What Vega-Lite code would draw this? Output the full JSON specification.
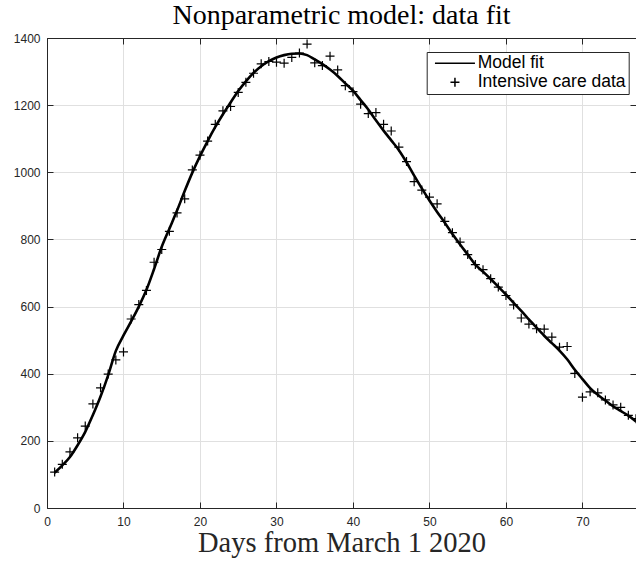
{
  "$schema": "https://vega.github.io/schema/vega-lite/v6.json",
  "width": 589,
  "height": 470,
  "autosize": {"type": "none"},
  "padding": {"left": 47, "top": 38, "right": 0, "bottom": 54},
  "background": "white",
  "title": {
    "text": "Nonparametric model: data fit",
    "font": "Liberation Serif",
    "fontSize": 28,
    "fontWeight": "normal",
    "color": "#000000",
    "anchor": "middle",
    "offset": 2
  },
  "config": {"view": {"stroke": null}},
  "datasets": {
    "fit": [
      {"day": 1, "value": 105}, {"day": 2, "value": 127}, {"day": 3, "value": 152}, {"day": 4, "value": 187},
      {"day": 5, "value": 227}, {"day": 6, "value": 277}, {"day": 7, "value": 332}, {"day": 8, "value": 396},
      {"day": 9, "value": 468}, {"day": 10, "value": 514}, {"day": 11, "value": 556}, {"day": 12, "value": 600},
      {"day": 13, "value": 650}, {"day": 14, "value": 712}, {"day": 15, "value": 778}, {"day": 16, "value": 832},
      {"day": 17, "value": 886}, {"day": 18, "value": 944}, {"day": 19, "value": 999}, {"day": 20, "value": 1048},
      {"day": 21, "value": 1093}, {"day": 22, "value": 1135}, {"day": 23, "value": 1173}, {"day": 24, "value": 1208},
      {"day": 25, "value": 1242}, {"day": 26, "value": 1271}, {"day": 27, "value": 1296}, {"day": 28, "value": 1316},
      {"day": 29, "value": 1331}, {"day": 30, "value": 1342}, {"day": 31, "value": 1349}, {"day": 32, "value": 1353},
      {"day": 33, "value": 1354}, {"day": 34, "value": 1349}, {"day": 35, "value": 1336}, {"day": 36, "value": 1322},
      {"day": 37, "value": 1306}, {"day": 38, "value": 1287}, {"day": 39, "value": 1265}, {"day": 40, "value": 1243},
      {"day": 41, "value": 1215}, {"day": 42, "value": 1187}, {"day": 43, "value": 1155}, {"day": 44, "value": 1124},
      {"day": 45, "value": 1095}, {"day": 46, "value": 1066}, {"day": 47, "value": 1030}, {"day": 48, "value": 990},
      {"day": 49, "value": 952}, {"day": 50, "value": 916}, {"day": 51, "value": 882}, {"day": 52, "value": 850},
      {"day": 53, "value": 816}, {"day": 54, "value": 785}, {"day": 55, "value": 755}, {"day": 56, "value": 725},
      {"day": 57, "value": 704}, {"day": 58, "value": 682}, {"day": 59, "value": 659}, {"day": 60, "value": 636},
      {"day": 61, "value": 611}, {"day": 62, "value": 587}, {"day": 63, "value": 562}, {"day": 64, "value": 537},
      {"day": 65, "value": 513}, {"day": 66, "value": 491}, {"day": 67, "value": 469}, {"day": 68, "value": 443},
      {"day": 69, "value": 412}, {"day": 70, "value": 384}, {"day": 71, "value": 357}, {"day": 72, "value": 337},
      {"day": 73, "value": 320}, {"day": 74, "value": 303}, {"day": 75, "value": 289}, {"day": 76, "value": 275},
      {"day": 77, "value": 258}
    ],
    "obs": [
      {"day": 1, "value": 107, "series": "Intensive care data"}, {"day": 2, "value": 130, "series": "Intensive care data"},
      {"day": 3, "value": 167, "series": "Intensive care data"}, {"day": 4, "value": 209, "series": "Intensive care data"},
      {"day": 5, "value": 244, "series": "Intensive care data"}, {"day": 6, "value": 310, "series": "Intensive care data"},
      {"day": 7, "value": 358, "series": "Intensive care data"}, {"day": 8, "value": 399, "series": "Intensive care data"},
      {"day": 9, "value": 441, "series": "Intensive care data"}, {"day": 10, "value": 465, "series": "Intensive care data"},
      {"day": 11, "value": 563, "series": "Intensive care data"}, {"day": 12, "value": 606, "series": "Intensive care data"},
      {"day": 13, "value": 648, "series": "Intensive care data"}, {"day": 14, "value": 732, "series": "Intensive care data"},
      {"day": 15, "value": 770, "series": "Intensive care data"}, {"day": 16, "value": 824, "series": "Intensive care data"},
      {"day": 17, "value": 879, "series": "Intensive care data"}, {"day": 18, "value": 921, "series": "Intensive care data"},
      {"day": 19, "value": 1007, "series": "Intensive care data"}, {"day": 20, "value": 1051, "series": "Intensive care data"},
      {"day": 21, "value": 1093, "series": "Intensive care data"}, {"day": 22, "value": 1143, "series": "Intensive care data"},
      {"day": 23, "value": 1183, "series": "Intensive care data"}, {"day": 24, "value": 1196, "series": "Intensive care data"},
      {"day": 25, "value": 1238, "series": "Intensive care data"}, {"day": 26, "value": 1268, "series": "Intensive care data"},
      {"day": 27, "value": 1295, "series": "Intensive care data"}, {"day": 28, "value": 1323, "series": "Intensive care data"},
      {"day": 29, "value": 1330, "series": "Intensive care data"}, {"day": 30, "value": 1328, "series": "Intensive care data"},
      {"day": 31, "value": 1325, "series": "Intensive care data"}, {"day": 32, "value": 1342, "series": "Intensive care data"},
      {"day": 33, "value": 1355, "series": "Intensive care data"}, {"day": 34, "value": 1382, "series": "Intensive care data"},
      {"day": 35, "value": 1326, "series": "Intensive care data"}, {"day": 36, "value": 1318, "series": "Intensive care data"},
      {"day": 37, "value": 1346, "series": "Intensive care data"}, {"day": 38, "value": 1305, "series": "Intensive care data"},
      {"day": 39, "value": 1258, "series": "Intensive care data"}, {"day": 40, "value": 1240, "series": "Intensive care data"},
      {"day": 41, "value": 1203, "series": "Intensive care data"}, {"day": 42, "value": 1175, "series": "Intensive care data"},
      {"day": 43, "value": 1178, "series": "Intensive care data"}, {"day": 44, "value": 1143, "series": "Intensive care data"},
      {"day": 45, "value": 1123, "series": "Intensive care data"}, {"day": 46, "value": 1075, "series": "Intensive care data"},
      {"day": 47, "value": 1032, "series": "Intensive care data"}, {"day": 48, "value": 972, "series": "Intensive care data"},
      {"day": 49, "value": 947, "series": "Intensive care data"}, {"day": 50, "value": 926, "series": "Intensive care data"},
      {"day": 51, "value": 906, "series": "Intensive care data"}, {"day": 52, "value": 854, "series": "Intensive care data"},
      {"day": 53, "value": 820, "series": "Intensive care data"}, {"day": 54, "value": 792, "series": "Intensive care data"},
      {"day": 55, "value": 755, "series": "Intensive care data"}, {"day": 56, "value": 725, "series": "Intensive care data"},
      {"day": 57, "value": 710, "series": "Intensive care data"}, {"day": 58, "value": 683, "series": "Intensive care data"},
      {"day": 59, "value": 658, "series": "Intensive care data"}, {"day": 60, "value": 633, "series": "Intensive care data"},
      {"day": 61, "value": 605, "series": "Intensive care data"}, {"day": 62, "value": 566, "series": "Intensive care data"},
      {"day": 63, "value": 548, "series": "Intensive care data"}, {"day": 64, "value": 534, "series": "Intensive care data"},
      {"day": 65, "value": 533, "series": "Intensive care data"}, {"day": 66, "value": 509, "series": "Intensive care data"},
      {"day": 67, "value": 479, "series": "Intensive care data"}, {"day": 68, "value": 481, "series": "Intensive care data"},
      {"day": 69, "value": 401, "series": "Intensive care data"}, {"day": 70, "value": 330, "series": "Intensive care data"},
      {"day": 71, "value": 346, "series": "Intensive care data"}, {"day": 72, "value": 343, "series": "Intensive care data"},
      {"day": 73, "value": 322, "series": "Intensive care data"}, {"day": 74, "value": 307, "series": "Intensive care data"},
      {"day": 75, "value": 300, "series": "Intensive care data"}, {"day": 76, "value": 276, "series": "Intensive care data"},
      {"day": 77, "value": 266, "series": "Intensive care data"}
    ]
  },
  "layer": [
    {
      "data": {"name": "fit"},
      "mark": {"type": "line", "color": "#000000", "strokeWidth": 2.6, "interpolate": "monotone"},
      "encoding": {
        "x": {
          "field": "day", "type": "quantitative",
          "scale": {"domain": [0, 77], "nice": false, "zero": false},
          "axis": {
            "orient": "bottom",
            "values": [0, 10, 20, 30, 40, 50, 60, 70],
            "format": "d",
            "grid": true, "gridColor": "#e0e0e0", "gridWidth": 1,
            "domainColor": "#262626", "domainWidth": 1,
            "tickColor": "#262626", "tickSize": -6, "tickWidth": 1,
            "labelPadding": 14, "labelFont": "Liberation Sans", "labelFontSize": 12, "labelColor": "#262626",
            "labelFlush": false, "labelOverlap": false,
            "title": "Days from March 1 2020",
            "titleFont": "Liberation Serif", "titleFontSize": 28.5, "titleFontWeight": "normal",
            "titleColor": "#262626", "titleY": 43.5, "titleBaseline": "alphabetic"
          }
        },
        "y": {
          "field": "value", "type": "quantitative",
          "scale": {"domain": [0, 1400], "nice": false},
          "axis": {
            "orient": "left",
            "values": [0, 200, 400, 600, 800, 1000, 1200, 1400],
            "format": "d",
            "grid": true, "gridColor": "#e0e0e0", "gridWidth": 1,
            "domainColor": "#262626", "domainWidth": 1,
            "tickColor": "#262626", "tickSize": -6, "tickWidth": 1,
            "labelPadding": 13, "labelFont": "Liberation Sans", "labelFontSize": 12, "labelColor": "#262626",
            "labelFlush": false, "labelOverlap": false,
            "title": null
          }
        }
      }
    },
    {
      "data": {"name": "obs"},
      "mark": {"type": "point", "filled": false, "color": "#000000", "strokeWidth": 1.2, "size": 100, "opacity": 1},
      "encoding": {
        "x": {
          "field": "day", "type": "quantitative",
          "scale": {"domain": [0, 77], "nice": false, "zero": false},
          "axis": {
            "orient": "top",
            "values": [0, 10, 20, 30, 40, 50, 60, 70],
            "grid": false, "labels": false, "title": null,
            "domainColor": "#262626", "domainWidth": 1,
            "tickColor": "#262626", "tickSize": -6, "tickWidth": 1
          }
        },
        "y": {
          "field": "value", "type": "quantitative",
          "scale": {"domain": [0, 1400], "nice": false},
          "axis": {
            "orient": "right",
            "values": [0, 200, 400, 600, 800, 1000, 1200, 1400],
            "grid": false, "labels": false, "title": null,
            "domainColor": "#262626", "domainWidth": 1,
            "tickColor": "#262626", "tickSize": -6, "tickWidth": 1
          }
        },
        "shape": {
          "field": "series", "type": "nominal",
          "scale": {
            "domain": ["Model fit", "Intensive care data"],
            "range": ["M-4,0H4", "M-0.9,0H0.9M0,-0.9V0.9"]
          },
          "legend": {
            "title": null,
            "orient": "none",
            "legendX": 379.7,
            "legendY": 14,
            "strokeColor": "#262626",
            "fillColor": "#ffffff",
            "padding": 2.5,
            "labelFont": "Liberation Sans",
            "labelFontSize": 17.5,
            "labelColor": "#000000",
            "labelLimit": 300,
            "symbolOffset": 17,
            "labelOffset": 14,
            "rowPadding": 0,
            "symbolSize": 100,
            "symbolStrokeColor": "#000000",
            "encode": {
              "symbols": {
                "update": {
                  "strokeWidth": {"signal": "datum.value === 'Model fit' ? 2.6 : 1.2"}
                }
              }
            }
          }
        }
      }
    }
  ],
  "resolve": {"axis": {"x": "independent", "y": "independent"}}
}
